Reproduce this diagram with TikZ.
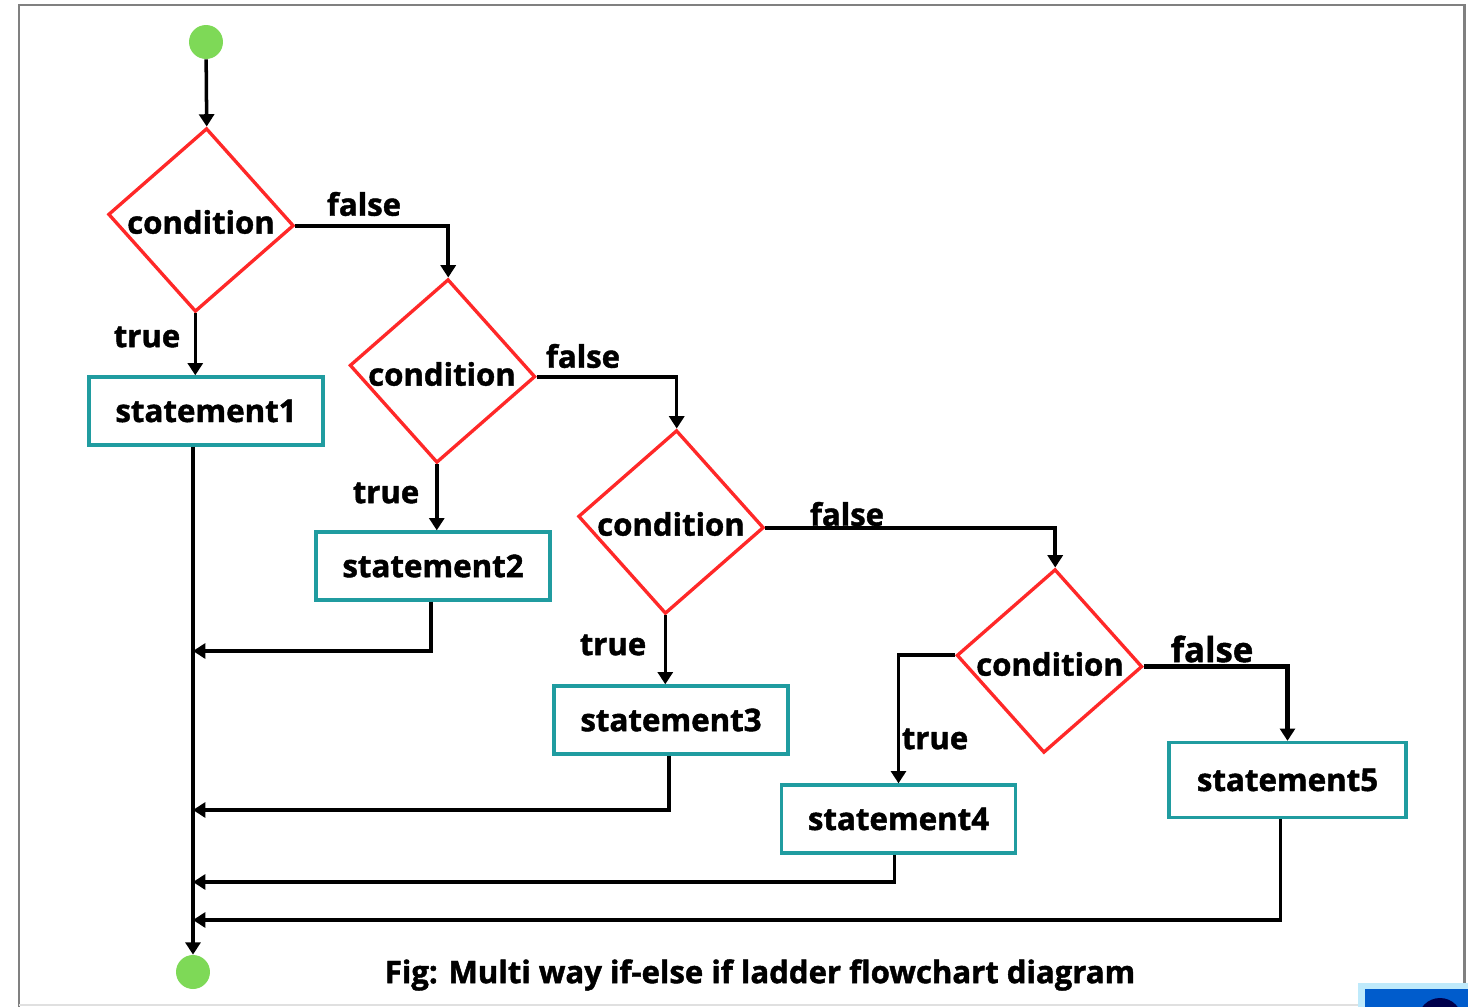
\documentclass[tikz,border=0pt]{standalone}
\usepackage{fontspec}
\setmainfont{Open Sans}[BoldFeatures={FakeBold=1.4}]
\usetikzlibrary{shapes.geometric,arrows.meta,calc}
\definecolor{condred}{RGB}{255,40,40}
\definecolor{boxteal}{RGB}{32,156,160}
\definecolor{termgreen}{RGB}{126,217,87}
\definecolor{framegray}{RGB}{128,128,128}
\begin{document}
\begin{tikzpicture}[x=0.02cm,y=-0.02cm,
  decision/.style={diamond,draw=condred,line width=1.9pt,inner sep=0pt,
    minimum width=3.72cm,minimum height=3.68cm,rotate=-3.5},
  condtext/.style={font=\fontsize{17.7}{21}\selectfont\bfseries},
  stmt/.style={rectangle,draw=boxteal,line width=1.9pt,minimum width=4.68cm,
    minimum height=1.36cm,font=\fontsize{17.8}{21}\selectfont\bfseries},
  term/.style={circle,fill=termgreen,minimum size=0.68cm,inner sep=0pt},
  lbl/.style={font=\fontsize{17.7}{21}\selectfont\bfseries},
  conn/.style={line width=2pt,-{Triangle[length=7pt,width=8.5pt]}}]
\useasboundingbox (0,0) rectangle (1468,1007);
% outer frame
\draw[framegray,line width=1.7pt] (19,1007) -- (19,5) -- (1464,5) -- (1464,1007);
\draw[black!12,line width=0.6pt] (19,1005) -- (1358,1005);

% terminals
\node[term] (b) at (206,42) {};
\node[term] (e) at (193,972) {};

% decisions
\node[decision] (d1) at (201,220) {};
\node[decision] (d2) at (442.5,371) {};
\node[decision] (d3) at (671,522) {};
\node[decision] (d4) at (1049.5,661) {};
\node[condtext] (c1) at (201,222) {condition};
\node[condtext] (c2) at (442,374) {condition};
\node[condtext] (c3) at (671,524) {condition};
\node[condtext] (c4) at (1050,664) {condition};

% statements
\node[stmt] (s1) at (206,411) {statement1};
\node[stmt] (s2) at (433,566) {statement2};
\node[stmt] (s3) at (671,720) {statement3};
\node[stmt] (s4) at (898.5,819) {statement4};
\node[stmt,minimum width=4.74cm,minimum height=1.5cm] (s5) at (1287.5,780) {statement5};

% branch labels
\node[lbl] (f1) at (364,204) {false};
\node[lbl] (f2) at (583,356) {false};
\node[lbl] (f3) at (847,514) {false};
\node[lbl,font=\fontsize{19.7}{23}\selectfont\bfseries] (f4) at (1212,649) {false};
\node[lbl] (t1) at (147,337) {true};
\node[lbl] (t2) at (386,493) {true};
\node[lbl] (t3) at (613,645) {true};
\node[lbl] (t4) at (935,739) {true};

% junctions on the common return line
\coordinate (j2) at (193,651);
\coordinate (j3) at (193,810);
\coordinate (j4) at (193,882);
\coordinate (j5) at (193,920);

% flow
\draw[conn] (b) -- (d1.north);
\draw[conn] (d1.east) -| (d2.north);
\draw[conn] (d2.east) -| (d3.north);
\draw[conn] (d3.east) -| (d4.north);
\draw[conn,line width=2.7pt] (d4.east) -| (s5.north);
\draw[conn] (d4.west) -| (s4.north);
\draw[conn] (d1.south) -- (d1.south |- s1.north);
\draw[conn] (d2.south) -- (d2.south |- s2.north);
\draw[conn] (d3.south) -- (d3.south |- s3.north);

% return paths
\draw[conn] (s1.south -| e.north) -- (e.north);
\draw[conn] ($(s2.south)+(-2,0)$) |- (j2);
\draw[conn] ($(s3.south)+(-2,0)$) |- (j3);
\draw[conn] ($(s4.south)+(-4,0)$) |- (j4);
\draw[conn] ($(s5.south)+(-7,0)$) |- (j5);

% caption
\node[font=\fontsize{17.7}{21}\selectfont\bfseries] (cap) at (760,975)
  {Fig: Multi way if-else if ladder flowchart diagram};

% corner badge
\fill[cyan!25] (1358,983) rectangle (1468,1007);
\fill[blue!55!cyan!80!black] (1365,989) rectangle (1468,1007);
\begin{scope}
\clip (1365,989) rectangle (1468,1007);
\fill[blue!30!black] (1440,1020) circle (22);
\end{scope}
\end{tikzpicture}
\end{document}
